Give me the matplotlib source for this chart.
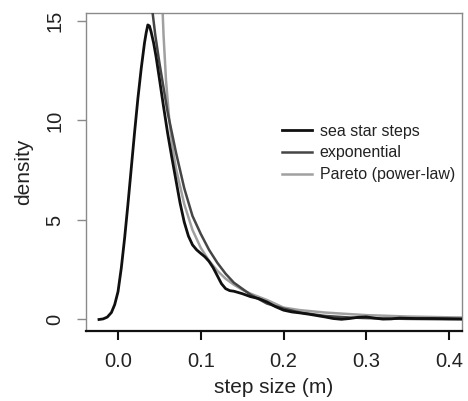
import matplotlib
matplotlib.use("Agg")
import matplotlib.pyplot as plt

# ------------------------------------------------------------
# Valeurs
# ------------------------------------------------------------

kde_x = [-0.023, -0.018, -0.013, -0.008, -0.004, 0.000, 0.004, 0.008, 0.012,
         0.016, 0.020, 0.024, 0.028, 0.032, 0.034, 0.036, 0.038, 0.040, 0.043,
         0.046, 0.050, 0.055, 0.060, 0.065, 0.070, 0.075, 0.080, 0.085, 0.090,
         0.095, 0.100, 0.105, 0.110, 0.115, 0.120, 0.125, 0.130, 0.135, 0.140,
         0.150, 0.160, 0.170, 0.180, 0.190, 0.200, 0.210, 0.220, 0.230, 0.240,
         0.250, 0.260, 0.270, 0.280, 0.290, 0.300, 0.310, 0.320, 0.330, 0.340,
         0.350, 0.360, 0.380, 0.400, 0.416]
kde_y = [0.0, 0.03, 0.12, 0.35, 0.75, 1.4, 2.6, 4.1, 5.8,
         7.6, 9.4, 11.1, 12.6, 13.9, 14.4, 14.8, 14.75, 14.45, 13.9,
         13.2, 12.1, 10.7, 9.35, 8.15, 7.0, 5.85, 4.9, 4.2, 3.75,
         3.5, 3.32, 3.15, 2.92, 2.6, 2.2, 1.8, 1.55, 1.45, 1.42,
         1.3, 1.15, 1.05, 0.88, 0.65, 0.47, 0.38, 0.33, 0.27, 0.2,
         0.13, 0.05, 0.01, 0.05, 0.11, 0.13, 0.07, 0.02, 0.03, 0.07,
         0.06, 0.05, 0.05, 0.04, 0.03]

expo_x = [0.0395, 0.045, 0.050, 0.060, 0.070, 0.080, 0.090, 0.100, 0.110,
          0.120, 0.130, 0.140, 0.150, 0.160, 0.180, 0.200, 0.220, 0.250,
          0.280, 0.300, 0.350, 0.400, 0.420]
expo_y = [16.2, 14.3, 12.9, 10.4, 8.4, 6.6, 5.2, 4.3, 3.5,
          2.85, 2.3, 1.85, 1.55, 1.25, 0.8, 0.55, 0.35, 0.18,
          0.1, 0.07, 0.03, 0.01, 0.01]

pareto_x = [0.0525, 0.055, 0.058, 0.062, 0.066, 0.070, 0.080, 0.090, 0.100,
            0.110, 0.120, 0.130, 0.140, 0.150, 0.160, 0.180, 0.200, 0.220,
            0.250, 0.280, 0.300, 0.350, 0.400, 0.420]
pareto_y = [17.0, 14.3, 12.0, 10.0, 8.6, 7.6, 5.8, 4.5, 3.6,
            2.95, 2.45, 2.05, 1.75, 1.5, 1.3, 0.98, 0.6, 0.47,
            0.35, 0.27, 0.22, 0.15, 0.11, 0.10]

x_ticks = [0.0, 0.1, 0.2, 0.3, 0.4]
y_ticks = [0, 5, 10, 15]

# ------------------------------------------------------------
# Figure
# ------------------------------------------------------------

plt.rcParams['font.family'] = ['Liberation Sans', 'DejaVu Sans']

fig = plt.figure(figsize=(4.68, 4.01), dpi=100)
ax = fig.add_axes([86 / 468, 1 - 331 / 401, 376 / 468, 318 / 401])

ax.plot(pareto_x, pareto_y, color='#a0a0a0', lw=1.8, label='Pareto (power-law)', zorder=2)
ax.plot(expo_x, expo_y, color='#454545', lw=1.8, label='exponential', zorder=3)
ax.plot(kde_x, kde_y, color='#101010', lw=2.0, label='sea star steps', zorder=4,
        solid_joinstyle='round')

ax.set_xlim(-0.0387, 0.4157)
ax.set_ylim(-0.578, 15.40)

ax.set_xticks(x_ticks)
ax.set_xticklabels(['0.0', '0.1', '0.2', '0.3', '0.4'])
ax.set_yticks(y_ticks)
ax.set_yticklabels([str(v) for v in y_ticks], rotation=90, va='center')

for s in ['left', 'top', 'right']:
    ax.spines[s].set_color('#8a8a8a')
    ax.spines[s].set_linewidth(1.0)
ax.spines['bottom'].set_color('#111111')
ax.spines['bottom'].set_linewidth(1.6)

ax.tick_params(axis='x', length=6.5, width=1.5, color='#111111', pad=8.5,
               labelsize=14.5, labelcolor='#222222')
ax.tick_params(axis='y', length=6.5, width=1.0, color='#8a8a8a', pad=9,
               labelsize=14.5, labelcolor='#222222')

ax.set_xlabel('step size (m)', fontsize=15, color='#222222')
ax.xaxis.set_label_coords(0.5, -0.178)
ax.xaxis.label.set_va('center')
ax.set_ylabel('density', fontsize=15, color='#222222')
ax.yaxis.set_label_coords(-0.165, 0.5)
ax.yaxis.label.set_va('center')

handles, labels = ax.get_legend_handles_labels()
order = [2, 1, 0]
leg = ax.legend([handles[i] for i in order], [labels[i] for i in order],
                loc='center left', bbox_to_anchor=((282 - 86) / 376, 1 - (153 - 13) / 318),
                frameon=False, fontsize=11.5, handlelength=1.9, handletextpad=0.45,
                labelspacing=0.42, borderpad=0, borderaxespad=0)
for t in leg.get_texts():
    t.set_color('#222222')

fig.savefig('out.png', dpi=100)
